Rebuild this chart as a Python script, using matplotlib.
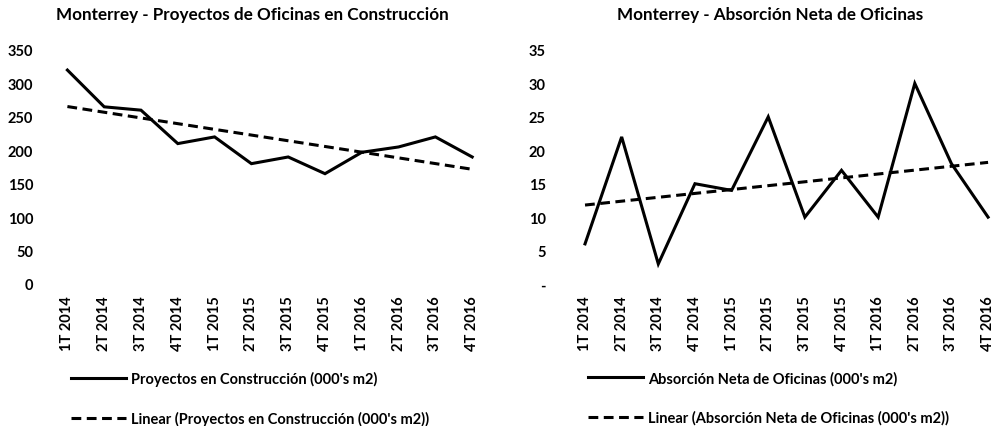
import numpy as np
import matplotlib
matplotlib.use("Agg")
import matplotlib.pyplot as plt

plt.rcParams['font.family'] = ['Lato', 'DejaVu Sans']

quarters = ["1T 2014", "2T 2014", "3T 2014", "4T 2014",
            "1T 2015", "2T 2015", "3T 2015", "4T 2015",
            "1T 2016", "2T 2016", "3T 2016", "4T 2016"]
construccion = [320, 265, 260, 210, 220, 180, 190, 165, 197, 205, 220, 190]
absorcion = [6, 22, 3, 15, 14, 25, 10, 17, 10, 30, 18, 10]

left_title = "Monterrey - Proyectos de Oficinas en Construcción"
right_title = "Monterrey - Absorción Neta de Oficinas"
left_label = "Proyectos en Construcción (000's m2)"
right_label = "Absorción Neta de Oficinas (000's m2)"
left_yticks = [0, 50, 100, 150, 200, 250, 300, 350]
right_yticks = [0, 5, 10, 15, 20, 25, 30, 35]
right_yticklabels = ["-", "5", "10", "15", "20", "25", "30", "35"]

W, H = 996, 427
fig = plt.figure(figsize=(W / 100, H / 100), dpi=100)

def px_axes(x0, y_top, w, h):
    return fig.add_axes([x0 / W, (H - y_top - h) / H, w / W, h / H])

def draw(ax, values, ylim, yticks, yticklabels, title, label, ypad, title_x):
    x = np.arange(len(values))
    ax.plot(x, values, color='black', lw=2.2, solid_joinstyle='miter', label=label)
    coef = np.polyfit(x, values, 1)
    trend = np.polyval(coef, x)
    ax.plot(x, trend, color='black', lw=2.2, dashes=(3.2, 1.8),
            label="Linear (" + label + ")")
    ax.set_ylim(*ylim)
    ax.set_yticks(yticks)
    ax.set_yticklabels(yticklabels)
    ax.set_xticks(x)
    ax.set_xticklabels(quarters, rotation=90)
    for s in ax.spines.values():
        s.set_visible(False)
    ax.tick_params(axis='both', length=0, labelsize=10.5)
    ax.tick_params(axis='y', pad=ypad)
    ax.tick_params(axis='x', pad=8)
    for t in ax.get_xticklabels() + ax.get_yticklabels():
        t.set_fontweight('bold')
    ax.patch.set_alpha(0)
    fig.text(title_x / W, 1 - 15 / H, title, ha='center', va='center',
             fontsize=12.3, fontweight='bold')
    return ax

axL = px_axes(49, 51, 441.6, 234)
axL.set_xlim(-0.5, 11.5)
draw(axL, construccion, (0, 350), left_yticks, [str(v) for v in left_yticks],
     left_title, left_label, 11.5, 252)

axR = px_axes(566.7, 51, 428.7, 234)
axR.set_xlim(-0.5, 11.2)
draw(axR, absorcion, (0, 35), right_yticks, right_yticklabels,
     right_title, right_label, 15, 770)

for ax, x0 in ((axL, 71), (axR, 588)):
    handles, labels = ax.get_legend_handles_labels()
    leg = fig.legend(handles, labels, loc='upper left',
                     bbox_to_anchor=(x0 / W, 1 - 372 / H),
                     frameon=False, handlelength=3.8, handletextpad=0.3,
                     labelspacing=1.7, borderaxespad=0, borderpad=0,
                     prop={'size': 10.5, 'weight': 'bold'})

fig.savefig("out.png", dpi=100)
